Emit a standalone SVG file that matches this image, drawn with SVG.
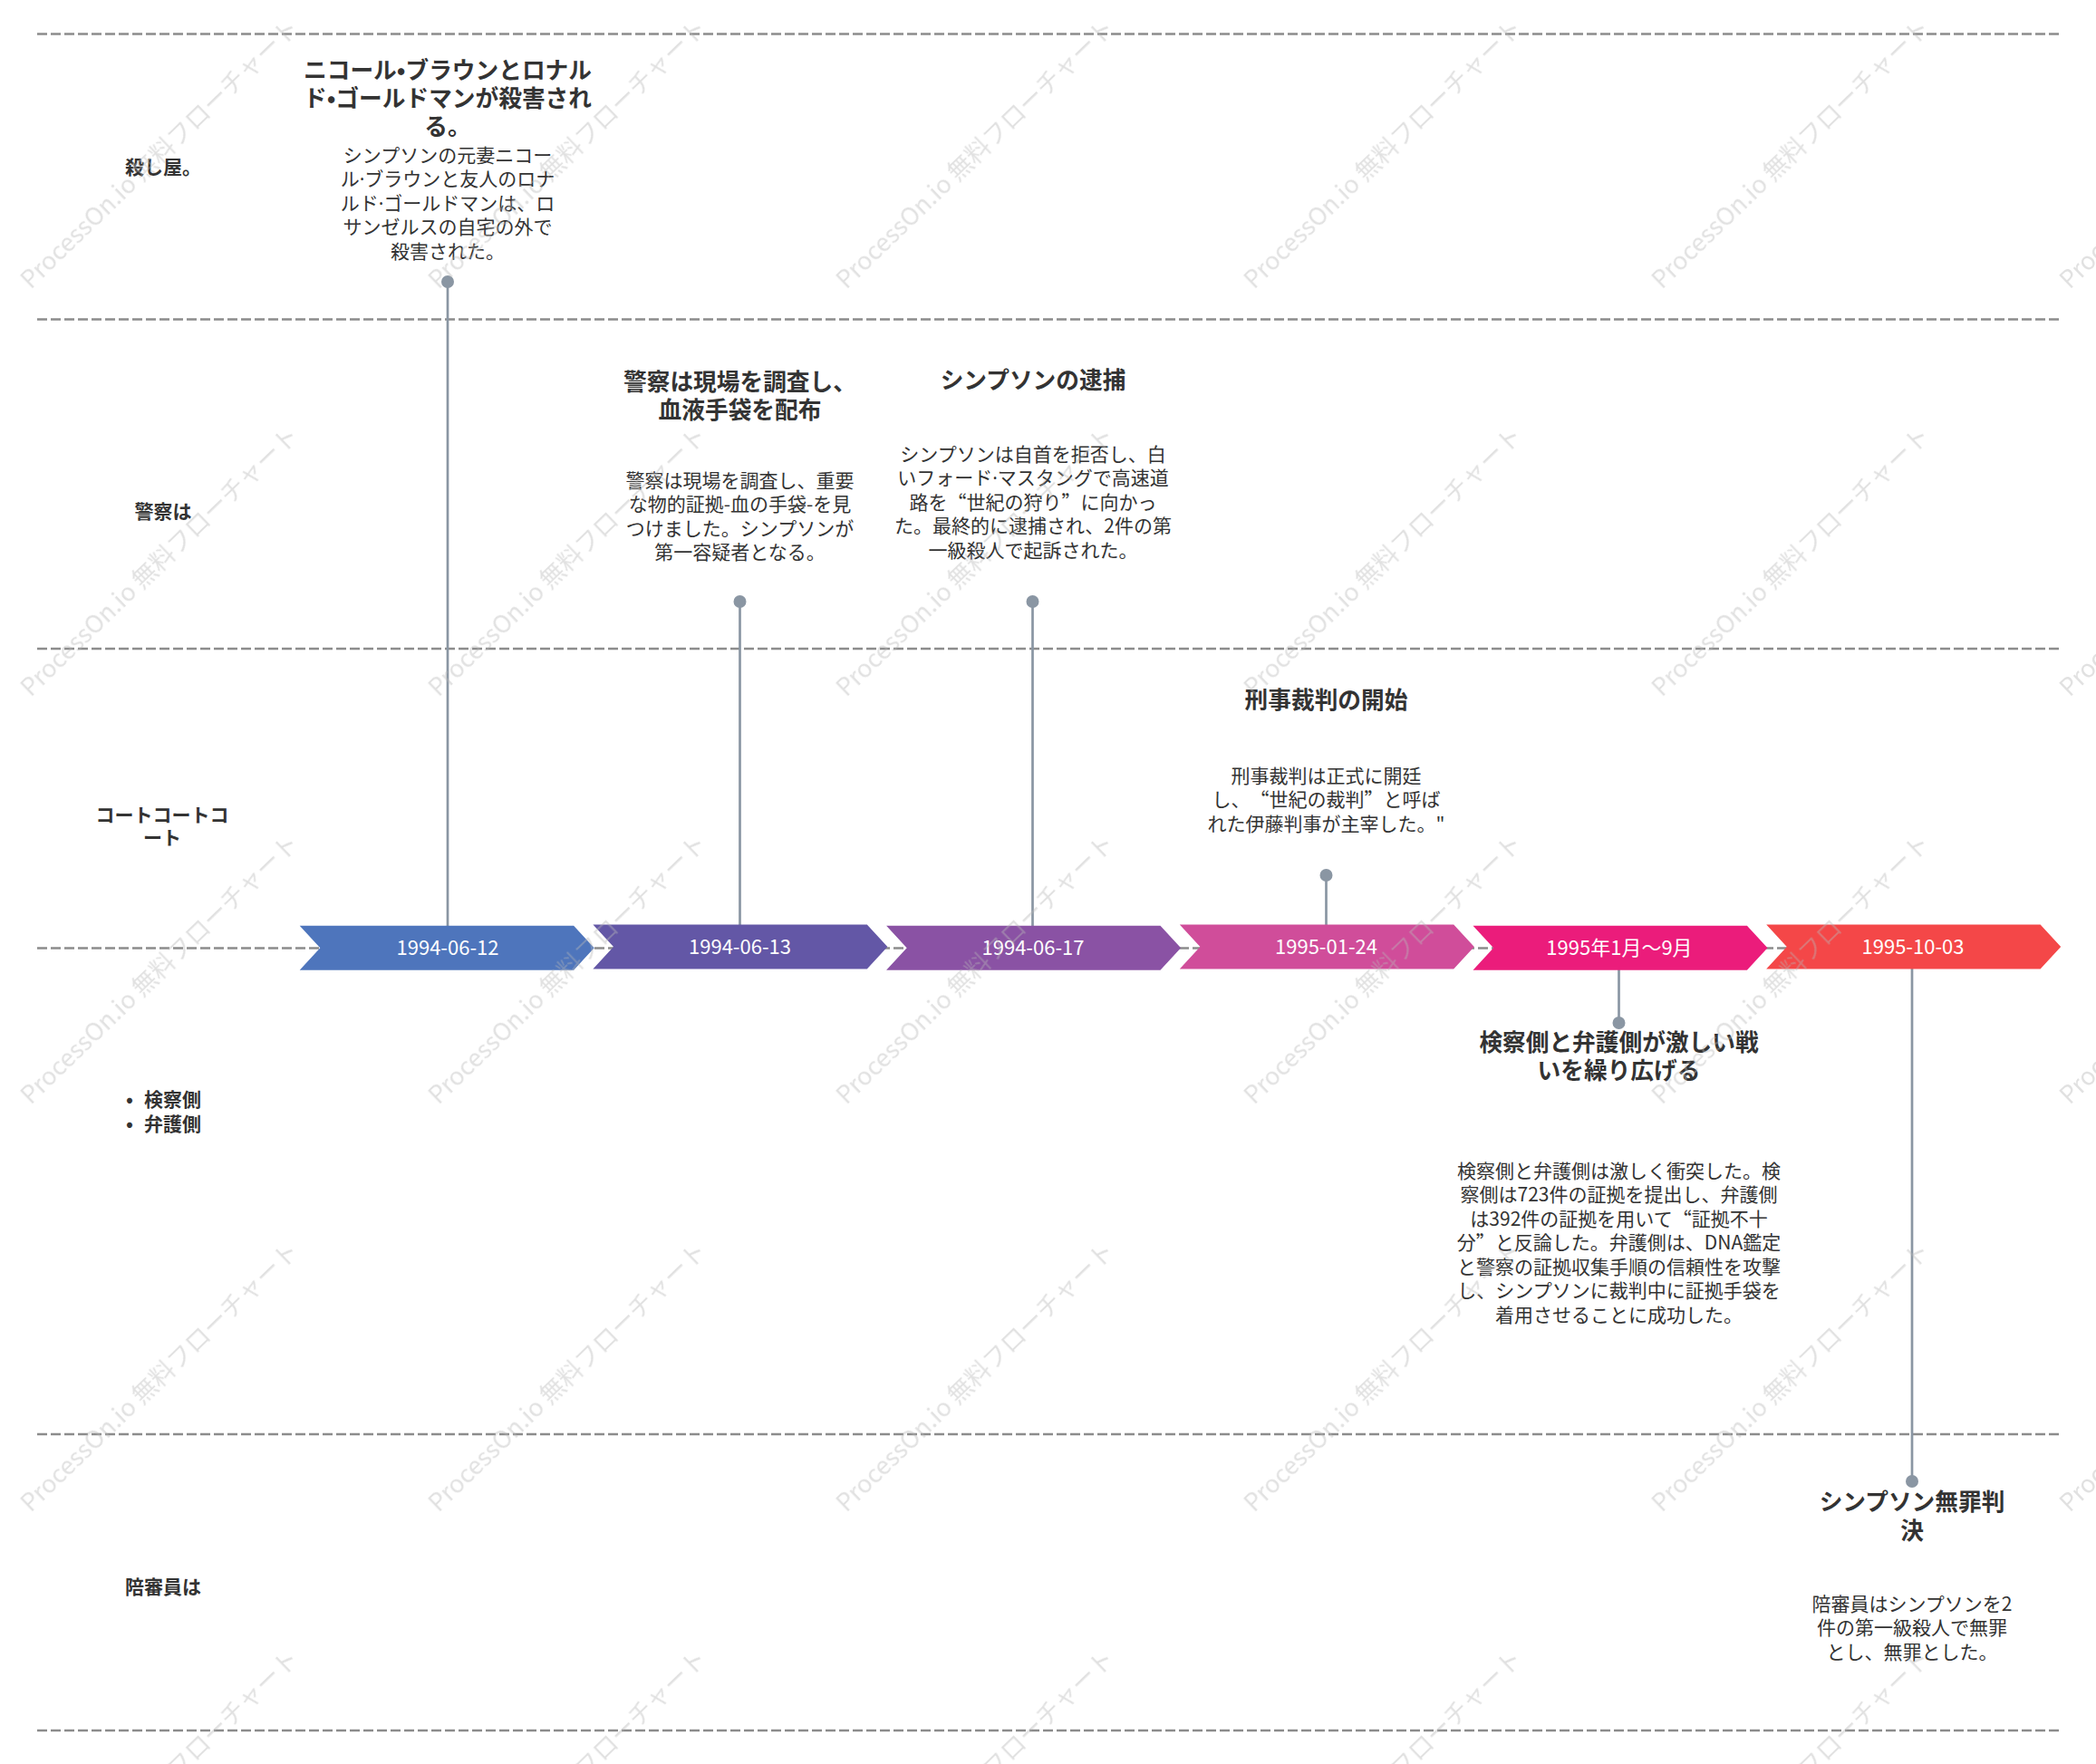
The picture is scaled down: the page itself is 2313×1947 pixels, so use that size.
<svg xmlns="http://www.w3.org/2000/svg" xmlns:xlink="http://www.w3.org/1999/xlink" width="2313" height="1947" viewBox="0 0 2313 1947">
<style>
  .lane { stroke: #8c8c8c; stroke-width: 2.7; stroke-dasharray: 11 4; fill: none; }
  .lbl { font-family: "Noto Sans CJK JP", "Noto Sans", sans-serif; font-size: 21px; font-weight: bold; fill: #333; }
  .ttl { font-family: "Noto Sans CJK JP", "Noto Sans", sans-serif; font-size: 25.7px; font-weight: bold; fill: #333; text-anchor: middle; }
  .dsc { font-family: "Noto Sans CJK JP", "Noto Sans", sans-serif; font-size: 21px; fill: #333; text-anchor: middle; }
  .date { font-family: "Noto Sans CJK JP", "Open Sans", sans-serif; font-size: 22px; fill: #fff; text-anchor: middle; }
  .fw { font-variant-east-asian: full-width; font-feature-settings: "fwid" 1; }
  .dot { font-family: "Noto Sans", sans-serif; }
  .conn line { stroke: #8a96a3; stroke-width: 2.7; }
  .conn circle { fill: #8a96a3; }
  .wm { font-family: "Noto Sans CJK JP", "Noto Sans", sans-serif; font-size: 27px; fill: #b8b8b8; opacity: 0.42; }
</style>
<defs>
  <polygon id="chev" points="0,0 302.4,0 325,24.5 302.4,49 0,49 22.6,24.5"/>
</defs>
<rect width="2313" height="1947" fill="#fff"/>

<g id="lanes">
  <line class="lane" x1="41" y1="37.5" x2="2272" y2="37.5"/>
  <line class="lane" x1="41" y1="352.5" x2="2272" y2="352.5"/>
  <line class="lane" x1="41" y1="716" x2="2272" y2="716"/>
  <line class="lane" x1="41" y1="1046.5" x2="2250" y2="1046.5"/>
  <line class="lane" x1="41" y1="1583" x2="2272" y2="1583"/>
  <line class="lane" x1="41" y1="1910" x2="2272" y2="1910"/>
</g>

<g id="lane-labels">
  <text class="lbl" x="180" y="192" text-anchor="middle">殺し屋。</text>
  <text class="lbl" x="180" y="572" text-anchor="middle">警察は</text>
  <text class="lbl" text-anchor="middle"><tspan x="179" y="907">コートコートコ</tspan><tspan x="179" y="932">ート</tspan></text>
  <text class="lbl"><tspan x="139" y="1221">•</tspan><tspan x="159" y="1221">検察側</tspan></text>
  <text class="lbl"><tspan x="139" y="1248">•</tspan><tspan x="159" y="1248">弁護側</tspan></text>
  <text class="lbl" x="180" y="1759" text-anchor="middle">陪審員は</text>
</g>

<g id="connectors" class="conn">
  <line x1="494" y1="1022" x2="494" y2="311"/>
  <circle cx="494" cy="311" r="7"/>
  <line x1="816.5" y1="1021" x2="816.5" y2="664"/>
  <circle cx="816.5" cy="664" r="7"/>
  <line x1="1139.5" y1="1022" x2="1139.5" y2="664"/>
  <circle cx="1139.5" cy="664" r="7"/>
  <line x1="1463.5" y1="1021" x2="1463.5" y2="966"/>
  <circle cx="1463.5" cy="966" r="7"/>
  <line x1="1786.5" y1="1070" x2="1786.5" y2="1129"/>
  <circle cx="1786.5" cy="1129" r="7"/>
  <line x1="2110" y1="1069" x2="2110" y2="1635"/>
  <circle cx="2110" cy="1635" r="7"/>
</g>

<g id="node-1994-06-12">
  <use href="#chev" x="330.7" y="1021.7" fill="#4e75bc"/>
  <text class="date" x="494" y="1054">1994-06-12</text>
  <text class="ttl"><tspan x="494" y="86.5">ニコール•ブラウンとロナル</tspan><tspan x="494" y="117.5">ド•ゴールドマンが殺害され</tspan><tspan x="494" y="148.5">る。</tspan></text>
  <text class="dsc"><tspan x="494" y="178.5">シンプソンの元妻ニコー</tspan><tspan x="494" y="205">ル<tspan class="dot">·</tspan>ブラウンと友人のロナ</tspan><tspan x="494" y="231.5">ルド<tspan class="dot">·</tspan>ゴールドマンは、ロ</tspan><tspan x="494" y="258">サンゼルスの自宅の外で</tspan><tspan x="494" y="284.5">殺害された。</tspan></text>
</g>

<g id="node-1994-06-13">
  <use href="#chev" x="654.4" y="1020.5" fill="#6357a6"/>
  <text class="date" x="816.5" y="1053">1994-06-13</text>
  <text class="ttl"><tspan x="816.5" y="430.5">警察は現場を調査し、</tspan><tspan x="816.5" y="461.5">血液手袋を配布</tspan></text>
  <text class="dsc"><tspan x="816.5" y="537.5">警察は現場を調査し、重要</tspan><tspan x="816.5" y="564">な物的証拠-血の手袋-を見</tspan><tspan x="816.5" y="590.5">つけました。シンプソンが</tspan><tspan x="816.5" y="617">第一容疑者となる。</tspan></text>
</g>

<g id="node-1994-06-17">
  <use href="#chev" x="978.1" y="1021.7" fill="#8a52a4"/>
  <text class="date" x="1140" y="1054">1994-06-17</text>
  <text class="ttl" x="1140" y="428.5">シンプソンの逮捕</text>
  <text class="dsc"><tspan x="1140" y="508.5">シンプソンは自首を拒否し、白</tspan><tspan x="1140" y="535">いフォード<tspan class="dot">·</tspan>マスタングで高速道</tspan><tspan x="1140" y="561.5">路を<tspan class="fw">“</tspan>世紀の狩り<tspan class="fw">”</tspan>に向かっ</tspan><tspan x="1140" y="588">た。最終的に逮捕され、2件の第</tspan><tspan x="1140" y="614.5">一級殺人で起訴された。</tspan></text>
</g>

<g id="node-1995-01-24">
  <use href="#chev" x="1301.8" y="1020.5" fill="#d04d9a"/>
  <text class="date" x="1463.5" y="1053">1995-01-24</text>
  <text class="ttl" x="1463.5" y="781.5">刑事裁判の開始</text>
  <text class="dsc"><tspan x="1463.5" y="863.5">刑事裁判は正式に開廷</tspan><tspan x="1463.5" y="890">し、<tspan class="fw">“</tspan>世紀の裁判<tspan class="fw">”</tspan>と呼ば</tspan><tspan x="1463.5" y="916.5">れた伊藤判事が主宰した。"</tspan></text>
</g>

<g id="node-1995-1-9">
  <use href="#chev" x="1625.5" y="1021.7" fill="#eb1c7b"/>
  <text class="date" x="1787" y="1054">1995年1月～9月</text>
  <text class="ttl"><tspan x="1786.5" y="1159.5">検察側と弁護側が激しい戦</tspan><tspan x="1786.5" y="1190.5">いを繰り広げる</tspan></text>
  <text class="dsc"><tspan x="1786.5" y="1299.5">検察側と弁護側は激しく衝突した。検</tspan><tspan x="1786.5" y="1326">察側は723件の証拠を提出し、弁護側</tspan><tspan x="1786.5" y="1352.5">は392件の証拠を用いて<tspan class="fw">“</tspan>証拠不十</tspan><tspan x="1786.5" y="1379">分<tspan class="fw">”</tspan>と反論した。弁護側は、DNA鑑定</tspan><tspan x="1786.5" y="1405.5">と警察の証拠収集手順の信頼性を攻撃</tspan><tspan x="1786.5" y="1432">し、シンプソンに裁判中に証拠手袋を</tspan><tspan x="1786.5" y="1458.5">着用させることに成功した。</tspan></text>
</g>

<g id="node-1995-10-03">
  <use href="#chev" x="1949.2" y="1020.5" fill="#f44748"/>
  <text class="date" x="2111" y="1053">1995-10-03</text>
  <text class="ttl"><tspan x="2110" y="1666.5">シンプソン無罪判</tspan><tspan x="2110" y="1698.5">決</tspan></text>
  <text class="dsc"><tspan x="2110" y="1777.5">陪審員はシンプソンを2</tspan><tspan x="2110" y="1804">件の第一級殺人で無罪</tspan><tspan x="2110" y="1830.5">とし、無罪とした。</tspan></text>
</g>

<g id="watermark" class="wm">
  <text transform="translate(34,320) rotate(-44)">ProcessOn.io 無料フローチャート</text>
  <text transform="translate(484,320) rotate(-44)">ProcessOn.io 無料フローチャート</text>
  <text transform="translate(934,320) rotate(-44)">ProcessOn.io 無料フローチャート</text>
  <text transform="translate(1384,320) rotate(-44)">ProcessOn.io 無料フローチャート</text>
  <text transform="translate(1834,320) rotate(-44)">ProcessOn.io 無料フローチャート</text>
  <text transform="translate(2284,320) rotate(-44)">ProcessOn.io 無料フローチャート</text>
  <text transform="translate(34,770) rotate(-44)">ProcessOn.io 無料フローチャート</text>
  <text transform="translate(484,770) rotate(-44)">ProcessOn.io 無料フローチャート</text>
  <text transform="translate(934,770) rotate(-44)">ProcessOn.io 無料フローチャート</text>
  <text transform="translate(1384,770) rotate(-44)">ProcessOn.io 無料フローチャート</text>
  <text transform="translate(1834,770) rotate(-44)">ProcessOn.io 無料フローチャート</text>
  <text transform="translate(2284,770) rotate(-44)">ProcessOn.io 無料フローチャート</text>
  <text transform="translate(34,1220) rotate(-44)">ProcessOn.io 無料フローチャート</text>
  <text transform="translate(484,1220) rotate(-44)">ProcessOn.io 無料フローチャート</text>
  <text transform="translate(934,1220) rotate(-44)">ProcessOn.io 無料フローチャート</text>
  <text transform="translate(1384,1220) rotate(-44)">ProcessOn.io 無料フローチャート</text>
  <text transform="translate(1834,1220) rotate(-44)">ProcessOn.io 無料フローチャート</text>
  <text transform="translate(2284,1220) rotate(-44)">ProcessOn.io 無料フローチャート</text>
  <text transform="translate(34,1670) rotate(-44)">ProcessOn.io 無料フローチャート</text>
  <text transform="translate(484,1670) rotate(-44)">ProcessOn.io 無料フローチャート</text>
  <text transform="translate(934,1670) rotate(-44)">ProcessOn.io 無料フローチャート</text>
  <text transform="translate(1384,1670) rotate(-44)">ProcessOn.io 無料フローチャート</text>
  <text transform="translate(1834,1670) rotate(-44)">ProcessOn.io 無料フローチャート</text>
  <text transform="translate(2284,1670) rotate(-44)">ProcessOn.io 無料フローチャート</text>
  <text transform="translate(34,2120) rotate(-44)">ProcessOn.io 無料フローチャート</text>
  <text transform="translate(484,2120) rotate(-44)">ProcessOn.io 無料フローチャート</text>
  <text transform="translate(934,2120) rotate(-44)">ProcessOn.io 無料フローチャート</text>
  <text transform="translate(1384,2120) rotate(-44)">ProcessOn.io 無料フローチャート</text>
  <text transform="translate(1834,2120) rotate(-44)">ProcessOn.io 無料フローチャート</text>
  <text transform="translate(2284,2120) rotate(-44)">ProcessOn.io 無料フローチャート</text>
</g>
</svg>
